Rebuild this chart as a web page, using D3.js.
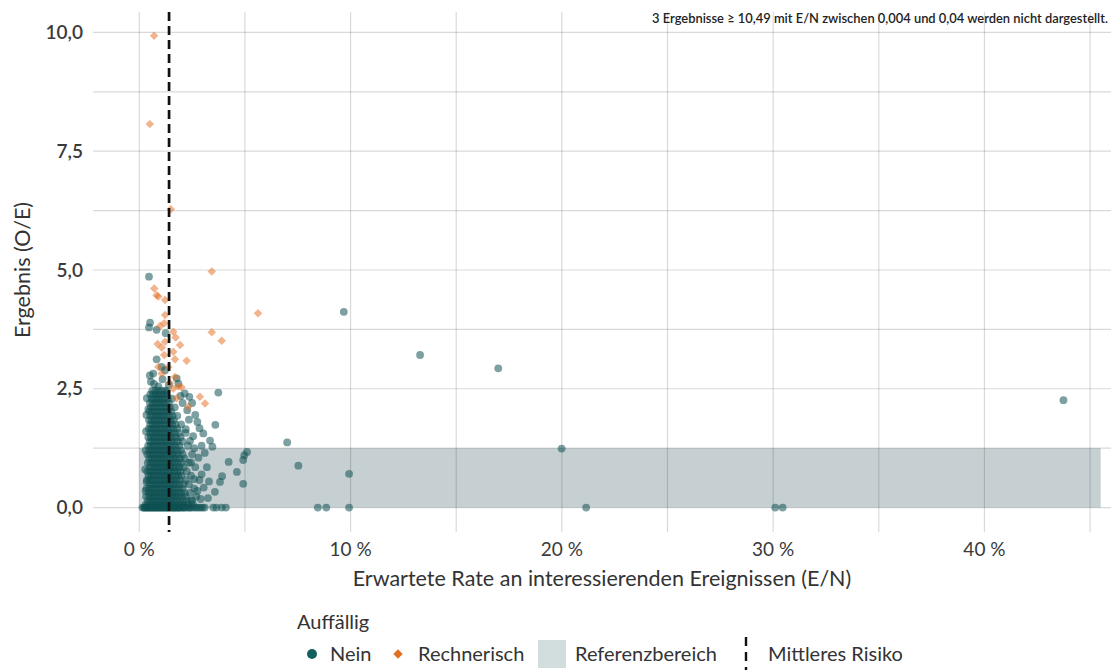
<!DOCTYPE html>
<html><head><meta charset="utf-8">
<script src="https://cdn.jsdelivr.net/npm/d3@7"></script>
<style>
html,body{margin:0;padding:0;background:#fff;}
text{font-family:Lato,"Open Sans",sans-serif;}
</style></head>
<body><svg id="c" width="1114" height="671"></svg>
<script>
// ---- data ----
const xTicks = [0, 10, 20, 30, 40];
const xGrid = [0, 5, 10, 15, 20, 25, 30, 35, 40, 45];
const yTicks = [0, 2.5, 5, 7.5, 10];
const yGrid = [0, 1.25, 2.5, 3.75, 5, 6.25, 7.5, 8.75, 10];
const meanRisk = 1.41;
const refRange = {x0: 0, x1: 45.5, y0: 0, y1: 1.25};
const note = "3 Ergebnisse \u2265 10,49 mit E/N zwischen 0,004 und 0,04 werden nicht dargestellt.";

// Nein: zero results (E/N in %)
const neinZeroX = [0.15,0.22,0.3,0.38,0.45,0.52,0.6,0.68,0.75,0.82,0.9,0.97,1.05,1.12,1.2,1.28,1.35,1.42,1.5,1.58,1.65,1.72,1.8,1.88,1.95,2.05,2.15,2.25,2.35,2.48,2.6,2.7,2.8,2.9,3.0,3.1,
  0.25,0.4,0.55,0.7,0.85,1.0,1.15,1.3,1.45,1.6,1.75,1.9,2.1,2.4,3.5,3.65,3.9,4.1,8.45,8.85,9.93,21.15,30.1,30.45];
// Nein: dense cluster rows [O/E, [E/N %...]]
const neinRows = [
  [0.06,[0.3,0.42,0.55,0.68,0.8,0.93,1.05,1.18,1.3,1.43,1.55,1.68,1.8,1.95,2.1,2.3,2.55]],
  [0.14,[0.4,0.52,0.64,0.76,0.88,1.0,1.12,1.24,1.37,1.5,1.62,1.77,1.92,2.08,2.25,2.45]],
  [0.23,[0.32,0.45,0.57,0.7,0.82,0.95,1.08,1.2,1.33,1.45,1.58,1.7,1.85,2.0,2.2,2.7]],
  [0.31,[0.45,0.58,0.7,0.82,0.94,1.06,1.18,1.3,1.42,1.55,1.68,1.82,1.98,2.15,2.4]],
  [0.40,[0.34,0.46,0.58,0.7,0.83,0.96,1.08,1.2,1.33,1.46,1.58,1.72,1.88,2.05,2.6]],
  [0.49,[0.5,0.62,0.74,0.86,0.98,1.1,1.22,1.34,1.46,1.6,1.74,1.9,2.1,2.35]],
  [0.58,[0.36,0.48,0.6,0.72,0.85,0.98,1.1,1.22,1.35,1.48,1.6,1.75,1.9,2.2,2.85]],
  [0.67,[0.44,0.56,0.68,0.8,0.92,1.05,1.18,1.3,1.42,1.55,1.7,1.85,2.0,2.45]],
  [0.76,[0.38,0.5,0.62,0.75,0.88,1.0,1.12,1.25,1.38,1.5,1.65,1.8,1.95,2.25]],
  [0.85,[0.5,0.62,0.74,0.86,0.98,1.1,1.22,1.34,1.47,1.6,1.74,1.9,2.1,2.65]],
  [0.94,[0.4,0.52,0.65,0.78,0.9,1.02,1.15,1.28,1.4,1.52,1.66,1.82,2.0,2.35]],
  [1.03,[0.47,0.6,0.72,0.84,0.96,1.08,1.2,1.33,1.46,1.6,1.75,1.92,2.15]],
  [1.12,[0.38,0.5,0.63,0.76,0.9,1.02,1.14,1.27,1.4,1.54,1.68,1.84,2.05,2.5]],
  [1.21,[0.48,0.6,0.72,0.85,0.98,1.1,1.22,1.35,1.48,1.62,1.78,1.98]],
  [1.30,[0.42,0.54,0.67,0.8,0.92,1.05,1.18,1.3,1.43,1.57,1.72,1.9,2.3]],
  [1.39,[0.5,0.62,0.74,0.86,0.98,1.1,1.23,1.36,1.5,1.65,1.82,2.05]],
  [1.48,[0.43,0.55,0.68,0.8,0.93,1.06,1.18,1.3,1.44,1.58,1.74,1.95]],
  [1.57,[0.52,0.64,0.76,0.88,1.0,1.12,1.25,1.38,1.52,1.68,1.88,2.2]],
  [1.66,[0.45,0.57,0.7,0.82,0.95,1.08,1.2,1.33,1.47,1.62,1.8]],
  [1.75,[0.52,0.64,0.76,0.88,1.0,1.13,1.26,1.4,1.55,1.72,1.98]],
  [1.84,[0.46,0.58,0.7,0.83,0.96,1.08,1.2,1.34,1.48,1.64]],
  [1.93,[0.54,0.66,0.78,0.9,1.02,1.15,1.28,1.42,1.58,1.8]],
  [2.02,[0.47,0.6,0.72,0.85,0.98,1.1,1.22,1.36,1.52]],
  [2.11,[0.55,0.67,0.8,0.92,1.05,1.18,1.3,1.45,1.68]],
  [2.20,[0.5,0.62,0.75,0.88,1.0,1.12,1.25,1.4]],
  [2.29,[0.58,0.7,0.82,0.95,1.08,1.2,1.35,1.55]],
  [2.38,[0.52,0.65,0.78,0.9,1.02,1.15,1.3]],
  [2.46,[0.62,0.76,0.9,1.05,1.22]]
];
// Nein: scattered points [E/N %, O/E]
const neinScatter = [[0.46,4.86],[0.51,3.89],[0.46,3.79],[0.82,3.74],[1.25,3.67],[0.82,3.12],[0.66,2.82],[1.06,2.96],[1.22,2.89],[1.77,2.72],[1.85,2.61],[0.55,2.65],[1.4,2.58],[0.9,2.55],
  [0.7,2.6],[1.1,2.7],[0.5,2.78],[1.3,2.45],[0.36,2.3],[0.32,1.6],[0.3,1.2],[0.28,0.8],[0.34,1.95],[0.3,0.35],
  [2.5,2.2],[2.65,1.95],[2.75,1.8],[2.55,1.5],[2.95,1.3],[3.1,1.15],[2.8,1.05],[3.2,0.85],[2.95,0.7],[3.3,0.55],[3.05,0.42],[2.75,0.35],[3.25,0.2],
  [2.6,1.25],[2.45,0.95],[2.35,1.85],[2.15,2.4],[1.95,2.35],[2.2,1.65],[2.4,1.4],[2.6,0.6],[2.5,0.15],[2.05,2.2],
  [3.74,2.42],[3.6,1.74],[2.85,1.67],[3.03,1.56],[3.35,1.41],[3.46,1.28],[4.23,0.96],[5.1,1.17],[4.97,1.10],[4.92,1.0],[4.62,0.75],[4.92,0.50],[3.92,0.66],[3.82,0.54],[3.58,0.33],[2.9,0.18],
  [0.43,2.07],[0.35,0.54],[2.27,2.05],[2.37,2.33],[7.0,1.37],[7.53,0.88],[9.93,0.71],[9.68,4.12],[13.29,3.21],[16.99,2.93],[19.99,1.24],[43.74,2.26]];
// Rechnerisch: [E/N %, O/E]
const rechnerisch = [[0.7,9.93],[0.5,8.07],[1.49,6.28],[3.43,4.97],[5.62,4.09],[3.43,3.69],[3.9,3.51],
  [0.71,4.61],[0.82,4.47],[0.9,4.44],[1.22,4.37],[1.22,4.05],[1.18,3.88],[0.98,3.82],[1.61,3.70],[1.72,3.58],[0.87,3.44],[1.22,3.49],[1.06,3.37],[1.93,3.42],[1.61,3.28],[1.18,3.21],
  [2.24,3.09],[1.69,3.12],[1.37,2.96],[0.9,2.96],[1.06,2.82],[1.69,2.75],[1.85,2.55],[1.77,2.30],[2.87,2.33],[3.11,2.19],[2.32,2.12],[1.61,2.50],[2.0,2.53],[1.45,2.62]];

// ---- drawing ----
const svg = d3.select("#c");
const x = d3.scaleLinear().domain([-2.19, 45.99]).range([93, 1111]);
const y = d3.scaleLinear().domain([-0.515, 10.43]).range([532, 12]);
const teal = "#0e5154", orange = "#e46a1c";

// reference area
svg.append("rect")
  .attr("x", x(refRange.x0)).attr("y", y(refRange.y1))
  .attr("width", x(refRange.x1) - x(refRange.x0)).attr("height", y(refRange.y0) - y(refRange.y1))
  .attr("fill", "#c6d0d2");

// grid
const g = svg.append("g").attr("stroke", "#000").attr("stroke-opacity", 0.15).attr("stroke-width", 1.2);
g.selectAll("line.v").data(xGrid).join("line").attr("class","v")
  .attr("x1", d => x(d)).attr("x2", d => x(d)).attr("y1", y.range()[1]).attr("y2", y.range()[0]);
g.selectAll("line.h").data(yGrid).join("line").attr("class","h")
  .attr("x1", x.range()[0]).attr("x2", x.range()[1]).attr("y1", d => y(d)).attr("y2", d => y(d));

// Nein points
const neinPts = [];
neinZeroX.forEach(v => neinPts.push([v, 0]));
neinRows.forEach(([oe, xs]) => xs.forEach(v => neinPts.push([v, oe])));
neinScatter.forEach(p => neinPts.push(p));
svg.append("g").selectAll("circle").data(neinPts).join("circle")
  .attr("cx", d => x(d[0])).attr("cy", d => y(d[1])).attr("r", 3.9)
  .attr("fill", teal).attr("fill-opacity", 0.54);

// Rechnerisch points
const diamond = d3.symbol().type(d3.symbolSquare).size(36)();
svg.append("g").selectAll("path").data(rechnerisch).join("path")
  .attr("d", diamond)
  .attr("transform", d => `translate(${x(d[0])},${y(d[1])}) rotate(45)`)
  .attr("fill", orange).attr("fill-opacity", 0.5);

// mean risk line
svg.append("line").attr("x1", x(meanRisk)).attr("x2", x(meanRisk))
  .attr("y1", y.range()[1]).attr("y2", y.range()[0])
  .attr("stroke", "#111").attr("stroke-width", 2.7).attr("stroke-dasharray", "9,5");

// axes labels
svg.append("g").selectAll("text").data(yTicks).join("text")
  .attr("x", 83).attr("y", d => y(d)).attr("dy", "0.35em").attr("text-anchor", "end")
  .attr("font-size", 19).attr("font-weight", 600).attr("fill", "#3a3a3a")
  .text(d => d3.format(".1f")(d).replace(".", ","));
svg.append("g").selectAll("text").data(xTicks).join("text")
  .attr("x", d => x(d)).attr("y", 549).attr("dy", "0.35em").attr("text-anchor", "middle")
  .attr("font-size", 19).attr("fill", "#3a3a3a")
  .text(d => d + " %");

svg.append("text").attr("x", x(21.9)).attr("y", 586).attr("text-anchor", "middle")
  .attr("font-size", 21.5).attr("fill", "#333").text("Erwartete Rate an interessierenden Ereignissen (E/N)");
svg.append("text").attr("transform", `translate(30,270) rotate(-90)`).attr("text-anchor", "middle")
  .attr("font-size", 21.5).attr("fill", "#333").text("Ergebnis (O/E)");

svg.append("text").attr("x", 1108).attr("y", 23).attr("text-anchor", "end")
  .attr("font-size", 12.9).attr("font-weight", 600).attr("fill", "#222").text(note);

// legend
const lg = svg.append("g").attr("font-size", 20).attr("fill", "#333");
lg.append("text").attr("x", 297).attr("y", 629).text("Auffällig");
lg.append("circle").attr("cx", 312).attr("cy", 654).attr("r", 5).attr("fill", "#15605f");
lg.append("text").attr("x", 330).attr("y", 661).text("Nein");
lg.append("path").attr("d", d3.symbol().type(d3.symbolSquare).size(44)())
  .attr("transform", "translate(398,654) rotate(45)").attr("fill", "#e07020");
lg.append("text").attr("x", 418).attr("y", 661).text("Rechnerisch");
lg.append("rect").attr("x", 538).attr("y", 640).attr("width", 28).attr("height", 28).attr("fill", "#d2dede");
lg.append("text").attr("x", 575).attr("y", 661).text("Referenzbereich");
lg.append("line").attr("x1", 746).attr("x2", 746).attr("y1", 637).attr("y2", 670)
  .attr("stroke", "#111").attr("stroke-width", 2.4).attr("stroke-dasharray", "9,6");
lg.append("text").attr("x", 768).attr("y", 661).text("Mittleres Risiko");
</script></body></html>
